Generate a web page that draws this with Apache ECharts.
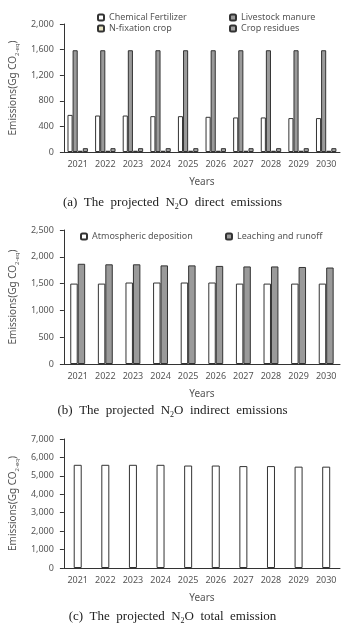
<!DOCTYPE html>
<html>
<head>
<meta charset="utf-8">
<script src="https://cdn.jsdelivr.net/npm/echarts@6/dist/echarts.min.js"></script>
<style>
  html, body { margin: 0; padding: 0; background: #fff; }
  #chart { width: 345px; height: 631px; }
</style>
</head>
<body>
<div id="chart"></div>
<script>
// data
const years = ['2021', '2022', '2023', '2024', '2025', '2026', '2027', '2028', '2029', '2030']

const chemicalFertilizer = [580, 570, 570, 560, 560, 550, 540, 540, 530, 530]
const livestockManure = [1590, 1590, 1590, 1590, 1590, 1590, 1590, 1590, 1590, 1590]
const nFixationCrop = [20, 20, 20, 20, 20, 20, 20, 20, 20, 20]
const cropResidues = [60, 60, 60, 60, 60, 60, 60, 60, 60, 60]

const atmosphericDeposition = [1500, 1500, 1520, 1520, 1520, 1520, 1500, 1500, 1500, 1500]
const leachingRunoff = [1870, 1860, 1860, 1840, 1840, 1830, 1820, 1820, 1810, 1800]

const totalEmission = [5600, 5600, 5600, 5600, 5560, 5560, 5530, 5530, 5500, 5500]

const captions = ['(a)', '(b)', '(c)']

const labelFont = 'Noto Sans'
const axisColor = '#333'
const textColor = '#555'

function comma(v) {
  return String(v).replace(/\B(?=(\d{3})+(?!\d))/g, ',')
}

function makeX(gridIndex) {
  return {
    type: 'category',
    gridIndex: gridIndex,
    data: years,
    name: 'Years',
    nameLocation: 'middle',
    nameGap: 25,
    nameTextStyle: { fontFamily: labelFont, fontSize: 10, color: textColor },
    axisLine: { lineStyle: { color: axisColor } },
    axisTick: { length: 4, lineStyle: { color: axisColor } },
    axisLabel: { fontFamily: labelFont, fontSize: 9, color: textColor, margin: 8 },
    splitLine: { show: false }
  }
}

function makeY(gridIndex, max, interval) {
  return {
    type: 'value',
    gridIndex: gridIndex,
    min: 0,
    max: max,
    interval: interval,
    name: '{t|Emissions(Gg CO}{s|2-eq}{t|)}',
    nameLocation: 'middle',
    nameRotate: 90,
    nameGap: 43,
    nameTextStyle: {
      rich: {
        t: { fontFamily: labelFont, fontSize: 10, color: textColor, lineHeight: 14 },
        s: { fontFamily: labelFont, fontSize: 6, color: textColor, lineHeight: 14, verticalAlign: 'bottom' }
      }
    },
    axisLine: { show: true, lineStyle: { color: axisColor } },
    axisTick: { show: true, length: 4, lineStyle: { color: axisColor } },
    axisLabel: { fontFamily: labelFont, fontSize: 9, color: textColor, margin: 10, formatter: comma },
    splitLine: { show: false }
  }
}

function caption(text, top) {
  return {
    text: text,
    left: 'center',
    top: top,
    textStyle: {
      fontWeight: 'normal',
      rich: {
        t: { fontFamily: 'Liberation Serif', fontSize: 13, fontWeight: 'normal', color: '#222', lineHeight: 16 },
        s: { fontFamily: 'Liberation Serif', fontSize: 8, fontWeight: 'normal', color: '#222', lineHeight: 16, verticalAlign: 'bottom' }
      }
    }
  }
}

const legendText = { fontFamily: labelFont, fontSize: 9, color: textColor }
const barBorder = { borderColor: axisColor, borderWidth: 1 }

const myChart = echarts.init(document.getElementById('chart'))
myChart.setOption({
  animation: false,
  backgroundColor: '#fff',
  title: [
    caption('{t|' + captions[0] + '  The  projected  N}{s|2}{t|O  direct  emissions}', 190),
    caption('{t|' + captions[1] + '  The  projected  N}{s|2}{t|O  indirect  emissions}', 398),
    caption('{t|' + captions[2] + '  The  projected  N}{s|2}{t|O  total  emission}', 604)
  ],
  legend: [
    {
      data: ['Chemical Fertilizer', 'N-fixation crop'],
      orient: 'vertical', left: 92, top: 8, itemGap: 2,
      itemWidth: 6, itemHeight: 6, textStyle: legendText
    },
    {
      data: ['Livestock manure', 'Crop residues'],
      orient: 'vertical', left: 224, top: 8, itemGap: 2,
      itemWidth: 6, itemHeight: 6, textStyle: legendText
    },
    {
      data: ['Atmospheric deposition'],
      left: 75, top: 227,
      itemWidth: 6, itemHeight: 6, textStyle: legendText
    },
    {
      data: ['Leaching and runoff'],
      left: 220, top: 227,
      itemWidth: 6, itemHeight: 6, textStyle: legendText
    }
  ],
  grid: [
    { left: 57, right: 5, top: 24, height: 128 },
    { left: 57, right: 5, top: 230, height: 134 },
    { left: 58, right: 5, top: 439, height: 129 }
  ],
  xAxis: [makeX(0), makeX(1), makeX(2)],
  yAxis: [makeY(0, 2000, 400), makeY(1, 2500, 500), makeY(2, 7000, 1000)],
  series: [
    {
      name: 'Chemical Fertilizer', type: 'bar', xAxisIndex: 0, yAxisIndex: 0,
      barGap: 0, barCategoryGap: '26%',
      itemStyle: Object.assign({ color: '#fff' }, barBorder),
      data: chemicalFertilizer
    },
    {
      name: 'Livestock manure', type: 'bar', xAxisIndex: 0, yAxisIndex: 0,
      itemStyle: Object.assign({ color: '#9a9a9a' }, barBorder),
      data: livestockManure
    },
    {
      name: 'N-fixation crop', type: 'bar', xAxisIndex: 0, yAxisIndex: 0,
      itemStyle: Object.assign({ color: '#e6e2c2' }, barBorder),
      data: nFixationCrop
    },
    {
      name: 'Crop residues', type: 'bar', xAxisIndex: 0, yAxisIndex: 0,
      itemStyle: Object.assign({ color: '#a3a3a3' }, barBorder),
      data: cropResidues
    },
    {
      name: 'Atmospheric deposition', type: 'bar', xAxisIndex: 1, yAxisIndex: 1,
      barGap: 0, barCategoryGap: '46%',
      itemStyle: Object.assign({ color: '#fff' }, barBorder),
      data: atmosphericDeposition
    },
    {
      name: 'Leaching and runoff', type: 'bar', xAxisIndex: 1, yAxisIndex: 1,
      itemStyle: Object.assign({ color: '#9a9a9a' }, barBorder),
      data: leachingRunoff
    },
    {
      name: 'Total emission', type: 'bar', xAxisIndex: 2, yAxisIndex: 2,
      barWidth: 8,
      itemStyle: Object.assign({ color: '#fff' }, barBorder),
      data: totalEmission
    }
  ]
})
</script>
</body>
</html>
